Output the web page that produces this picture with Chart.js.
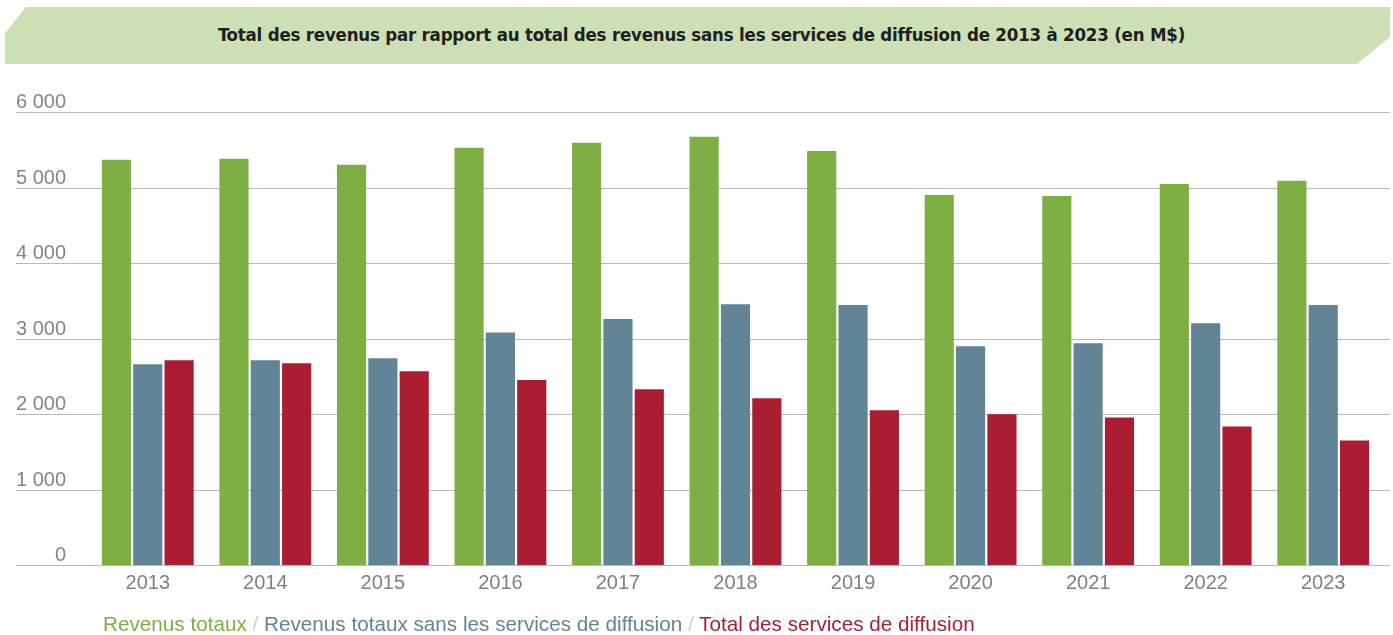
<!DOCTYPE html>
<html lang="fr">
<head>
<meta charset="utf-8">
<script src="https://cdn.jsdelivr.net/npm/chart.js@4"></script>
<style>
  html, body { margin: 0; padding: 0; background: #fff; }
  body { width: 1393px; height: 635px; position: relative; overflow: hidden; }
  .banner {
    position: absolute; left: 5px; top: 7px; width: 1385px; height: 57px;
    background: #cddfb5;
    clip-path: polygon(0 26px, 21px 0, 1385px 0, 1385px 30px, 1352px 57px, 0 57px);
  }
  .banner h1 {
    margin: 0; position: absolute; left: 8px; right: 0; top: 17px;
    text-align: center; font: bold 18.5px "DejaVu Sans Condensed", "DejaVu Sans", sans-serif;
    color: #1e1e1e; letter-spacing: -0.2px;
  }
  #chartWrap { position: absolute; left: 0; top: 0; width: 1393px; height: 635px; }
  .legend {
    position: absolute; left: 103px; top: 612px;
    font: 20.7px "Liberation Sans", Arial, sans-serif; white-space: nowrap;
  }
  .legend .sep { color: #d0d0d0; }
</style>
</head>
<body>
<div id="chartWrap"><canvas id="revenusChart"></canvas></div>
<div class="banner"><h1>Total des revenus par rapport au total des revenus sans les services de diffusion de 2013 à 2023 (en M$)</h1></div>
<div class="legend" id="legend"></div>
<script>
const years = ['2013', '2014', '2015', '2016', '2017', '2018', '2019', '2020', '2021', '2022', '2023'];
const revenusTotaux = [5367, 5380, 5302, 5526, 5592, 5671, 5485, 4901, 4888, 5048, 5088];
const revenusSansDiffusion = [2659, 2712, 2739, 3080, 3258, 3455, 3443, 2899, 2936, 3203, 3443];
const servicesDiffusion = [2712, 2672, 2566, 2449, 2329, 2209, 2050, 1996, 1955, 1836, 1650];
const yTicks = [0, 1000, 2000, 3000, 4000, 5000, 6000];

const seriesNames = ['Revenus totaux', 'Revenus totaux sans les services de diffusion', 'Total des services de diffusion'];
const seriesColors = ['#7daf42', '#618596', '#ab1e31'];

// legend as plain text, slashes in between
document.getElementById('legend').innerHTML = seriesNames
    .map((n, i) => `<span style="color:${seriesColors[i]}">${n}</span>`)
    .join('<span class="sep"> / </span>');

const fmt = v => v === 0 ? '0' : String(v).replace(/\B(?=(\d{3})+(?!\d))/g, ' ');

// gridlines run under the y labels, labels sit above their line
const yGridPlugin = {
    id: 'yGrid',
    beforeDatasetsDraw(chart) {
        const ctx = chart.ctx;
        const y = chart.scales.y;
        ctx.save();
        ctx.strokeStyle = '#b9b9b9';
        ctx.lineWidth = 1;
        ctx.fillStyle = '#858585';
        ctx.font = '20px "Liberation Sans", Arial, sans-serif';
        ctx.textAlign = 'right';
        ctx.textBaseline = 'alphabetic';
        yTicks.forEach(v => {
            const py = Math.round(y.getPixelForValue(v)) + 0.5;
            ctx.beginPath();
            ctx.moveTo(16, py);
            ctx.lineTo(1390, py);
            ctx.stroke();
            ctx.fillText(fmt(v), 66, py - 5);
        });
        ctx.restore();
    }
};

const ctx = document.getElementById('revenusChart').getContext('2d');

new Chart(ctx, {
    type: 'bar',
    data: {
        labels: years,
        datasets: [
            { label: seriesNames[0], data: revenusTotaux, backgroundColor: seriesColors[0] },
            { label: seriesNames[1], data: revenusSansDiffusion, backgroundColor: seriesColors[1] },
            { label: seriesNames[2], data: servicesDiffusion, backgroundColor: seriesColors[2] }
        ]
    },
    options: {
        responsive: true, maintainAspectRatio: false, animation: false,
        categoryPercentage: 0.8, barPercentage: 0.93,
        layout: { padding: { left: 89, right: 11, top: 112, bottom: 34 } },
        scales: {
            x: {
                grid: { display: false, drawTicks: false },
                border: { display: false },
                ticks: { color: '#808080', padding: 6, font: { family: '"Liberation Sans", Arial, sans-serif', size: 20 } }
            },
            y: {
                display: false,
                min: 0, max: 6000
            }
        },
        plugins: { legend: { display: false }, tooltip: { enabled: false } }
    },
    plugins: [yGridPlugin]
});
</script>
</body>
</html>
